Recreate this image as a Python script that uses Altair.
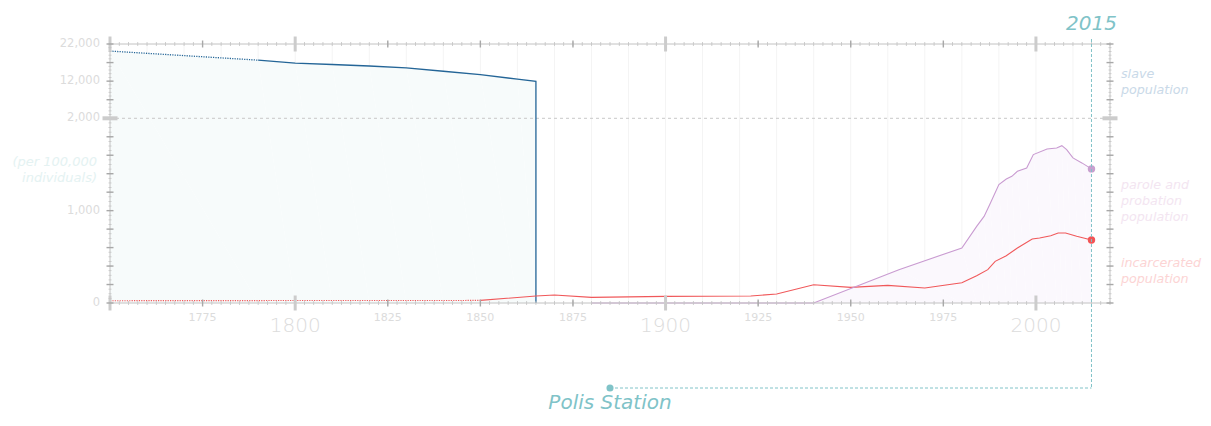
import altair as alt
import numpy as np
import pandas as pd

# ---------------- data (rates per 100,000 individuals) ----------------
slave_years = [1750, 1790, 1800, 1810, 1820, 1830, 1840, 1850, 1860, 1865, 1865]
slave_rate = [20100, 17650, 16840, 16480, 16080, 15590, 14670, 13770, 12540, 11950, 0]
slave_dotted_until = 1790

incarc_years = [1750, 1850, 1865, 1870, 1880, 1900, 1923, 1930, 1940, 1950, 1960, 1970,
                1980, 1984, 1987, 1989, 1992, 1995, 1999, 2001, 2004, 2006, 2008, 2011, 2015]
incarc_rate = [25, 28, 76, 87, 61, 72, 76, 97, 198, 169, 191, 162,
               220, 296, 361, 451, 512, 596, 693, 704, 729, 758, 758, 722, 683]
incarc_dotted_until = 1850

parole_years = [1880, 1940, 1963, 1980, 1984, 1986, 1987.5, 1990, 1992, 1993.5, 1995,
                1997.5, 1999.3, 2003, 2005.6, 2007, 2008.3, 2010, 2012.4, 2015]
parole_rate = [0, 0, 361, 596, 830, 938, 1065, 1282, 1343, 1372, 1426,
               1462, 1607, 1668, 1679, 1704, 1661, 1571, 1517, 1452]

x_small_labels = [1775, 1825, 1850, 1875, 1925, 1950, 1975]
x_big_labels = [1800, 1900, 2000]
y_label_values = [0, 1000, 2000, 12000, 22000]
x_major_ticks = [1750, 1800, 1900, 2000]
x_mid_ticks = [1775, 1825, 1850, 1875, 1925, 1950, 1975]
x_minor_ticks = list(np.arange(1750, 2020.1, 2.5))
x_grid = list(range(1760, 2020, 10))
y_mid_ticks = [0, 200, 400, 600, 800, 1000, 1200, 1400, 1600, 1800, 7000, 12000, 17000, 22000]
y_minor_ticks = list(range(0, 2000, 50)) + list(range(2000, 22001, 1000))
y_break = 2000

milestone_year = 2015
station_year = 1885
station_name = "Polis Station"

# ---------------- styling ----------------
W, H = 1000, 259
TEAL = "#80c3c8"
BLUE = "#246597"
RED = "#f0585a"
PURPLE = "#c99bd1"
AX = "#c2c2c2"
LBL = "#dcdcdc"
FONT = "DejaVu Sans"

XS = alt.Scale(domain=[1750, 2020], nice=False, zero=False)
YS = alt.Scale(domain=[0, 2000, 22000], range=[H, 74.3, 0], nice=False, zero=False)


def X(**kw):
    return alt.X("year:Q", scale=XS, axis=None, **kw)


def Y(**kw):
    return alt.Y("rate:Q", scale=YS, axis=None, **kw)


def seg(years, rates, until):
    rows = []
    for i, (y, r) in enumerate(zip(years, rates)):
        if y <= until:
            rows.append({"year": y, "rate": r, "seg": "dotted", "i": i})
        if y >= until:
            rows.append({"year": y, "rate": r, "seg": "solid", "i": i})
    return pd.DataFrame(rows)


slave_df = pd.DataFrame({"year": slave_years, "rate": slave_rate, "i": range(len(slave_years))})
slave_seg = seg(slave_years, slave_rate, slave_dotted_until)
inc_seg = seg(incarc_years, incarc_rate, incarc_dotted_until)
parole_df = pd.DataFrame({"year": parole_years, "rate": parole_rate, "i": range(len(parole_years))})
end_df = pd.DataFrame({"year": [incarc_years[-1], parole_years[-1]],
                       "rate": [incarc_rate[-1], parole_rate[-1]],
                       "s": ["incarcerated", "parole"]})
one = pd.DataFrame({"k": [0]})

# grid
grid = alt.Chart(pd.DataFrame({"year": x_grid})).mark_rule(color="#f4f4f4", strokeWidth=1).encode(
    x=X(), y=alt.value(0), y2=alt.value(H))

# areas
slave_area = alt.Chart(slave_df).mark_area(color="#f7fbfb", opacity=1).encode(
    x=X(), y=Y(), order="i:Q")
parole_area = alt.Chart(parole_df).mark_area(color="#fbf8fd", opacity=1).encode(
    x=X(), y=Y(), order="i:Q")

break_rule = alt.Chart(one).mark_rule(color="#c8c8c8", strokeDash=[3, 3], strokeWidth=1).encode(
    y=alt.YDatum(y_break, scale=YS, axis=None), x=alt.value(0), x2=alt.value(W))


def line_layer(df, color, width):
    dotted = alt.Chart(df[df.seg == "dotted"]).mark_line(
        color=color, strokeWidth=width, strokeDash=[1.2, 1.2]).encode(x=X(), y=Y(), order="i:Q")
    solid = alt.Chart(df[df.seg == "solid"]).mark_line(color=color, strokeWidth=width).encode(
        x=X(), y=Y(), order="i:Q")
    return [dotted, solid]


slave_lines = line_layer(slave_seg, BLUE, 1.3)
inc_lines = line_layer(inc_seg, RED, 1.1)
parole_line = alt.Chart(parole_df).mark_line(color=PURPLE, strokeWidth=1.1).encode(
    x=X(), y=Y(), order="i:Q")

ends = alt.Chart(end_df).mark_circle(size=55, opacity=1).encode(
    x=X(), y=Y(),
    color=alt.Color("s:N", scale=alt.Scale(domain=["incarcerated", "parole"],
                                           range=["#f25456", "#c8a0cf"]), legend=None))


# ruler ticks and frame
def xticks(vals, ypix, size, thick, color):
    return alt.Chart(pd.DataFrame({"year": vals})).mark_tick(
        orient="vertical", size=size, thickness=thick, color=color, opacity=1).encode(
        x=X(), y=alt.value(ypix))


def yticks(vals, xpix, size, thick, color):
    return alt.Chart(pd.DataFrame({"rate": vals})).mark_tick(
        orient="horizontal", size=size, thickness=thick, color=color, opacity=1).encode(
        y=Y(), x=alt.value(xpix))


frame = [
    alt.Chart(one).mark_rule(color=AX, strokeWidth=1).encode(x=alt.value(0), x2=alt.value(W), y=alt.value(0)),
    alt.Chart(one).mark_rule(color=AX, strokeWidth=1).encode(x=alt.value(0), x2=alt.value(W), y=alt.value(H)),
    alt.Chart(one).mark_rule(color=AX, strokeWidth=1).encode(x=alt.value(0), y=alt.value(0), y2=alt.value(H)),
    alt.Chart(one).mark_rule(color=AX, strokeWidth=1).encode(x=alt.value(W), y=alt.value(0), y2=alt.value(H)),
]
ticks = []
for ypix in (0, H):
    ticks += [xticks(x_minor_ticks, ypix, 4, 0.8, "#c4c4c4"),
              xticks(x_mid_ticks, ypix, 7, 1.4, "#a8a8a8"),
              xticks(x_major_ticks, ypix, 15, 3, "#cccccc")]
for xpix in (0, W):
    ticks += [yticks(y_minor_ticks, xpix, 3, 0.8, "#c4c4c4"),
              yticks(y_mid_ticks, xpix, 7, 1.4, "#a8a8a8"),
              yticks([y_break], xpix, 15, 4, "#cccccc")]

# tick labels
xlab_small = alt.Chart(pd.DataFrame({"year": x_small_labels})).mark_text(
    font=FONT, fontSize=11, color=LBL, align="center", baseline="middle").encode(
    x=X(), y=alt.value(H + 15), text=alt.Text("year:Q", format="d"))
xlab_big = alt.Chart(pd.DataFrame({"year": x_big_labels})).mark_text(
    font=FONT, fontSize=20, fontWeight=200, color=LBL, align="center", baseline="middle").encode(
    x=X(), y=alt.value(H + 23), text=alt.Text("year:Q", format="d"))
ylab = alt.Chart(pd.DataFrame({"rate": y_label_values})).mark_text(
    font=FONT, fontSize=11.5, color=LBL, align="right", baseline="middle").encode(
    y=Y(), x=alt.value(-10), text=alt.Text("rate:Q", format=","))

# annotations
ann = [
    alt.Chart(one).mark_rule(color=TEAL, strokeDash=[3, 2], strokeWidth=1).encode(
        x=alt.XDatum(milestone_year, scale=XS, axis=None), y=alt.value(-5), y2=alt.value(344)),
    alt.Chart(one).mark_rule(color=TEAL, strokeDash=[3, 2], strokeWidth=1).encode(
        x=alt.XDatum(station_year, scale=XS, axis=None), x2=alt.X2Datum(milestone_year), y=alt.value(344)),
    alt.Chart(one).mark_circle(size=50, color=TEAL, opacity=1).encode(
        x=alt.XDatum(station_year, scale=XS, axis=None), y=alt.value(344)),
    alt.Chart(one).mark_text(font=FONT, fontSize=20, fontStyle="italic", color=TEAL,
                             align="center", baseline="alphabetic").encode(
        x=alt.XDatum(milestone_year, scale=XS, axis=None), y=alt.value(-14),
        text=alt.value(str(milestone_year))),
    alt.Chart(one).mark_text(font=FONT, fontSize=20, fontStyle="italic", color=TEAL,
                             align="center", baseline="alphabetic").encode(
        x=alt.XDatum(station_year, scale=XS, axis=None), y=alt.value(365),
        text=alt.value(station_name)),
]


def label(txt, ypix, color, xpix=1011, align="left", size=12.7):
    return alt.Chart(one).mark_text(font=FONT, fontSize=size, fontStyle="italic", color=color,
                                    align=align, baseline="alphabetic", lineBreak="\n",
                                    lineHeight=16).encode(
        x=alt.value(xpix), y=alt.value(ypix), text=alt.value(txt))


labels = [
    label("slave\npopulation", 34, "#c9d9e8"),
    label("parole and\nprobation\npopulation", 145, "#f3e5f1"),
    label("incarcerated\npopulation", 223, "#fcd4d4"),
    label("(per 100,000\nindividuals)", 122, "#e4f2f2", xpix=-13, align="right", size=13),
]

chart = alt.layer(
    grid, slave_area, parole_area, break_rule,
    *slave_lines, *inc_lines, parole_line,
    *frame, *ticks, ends, xlab_small, xlab_big, ylab, *ann, *labels
).properties(
    width=W, height=H,
    padding={"left": 102, "top": 36, "right": 93, "bottom": 111},
    autosize=alt.AutoSizeParams(type="none"),
).configure(font=FONT).configure_view(stroke=None)

chart.save("out.html", embed_options={"renderer": "svg", "actions": False})
